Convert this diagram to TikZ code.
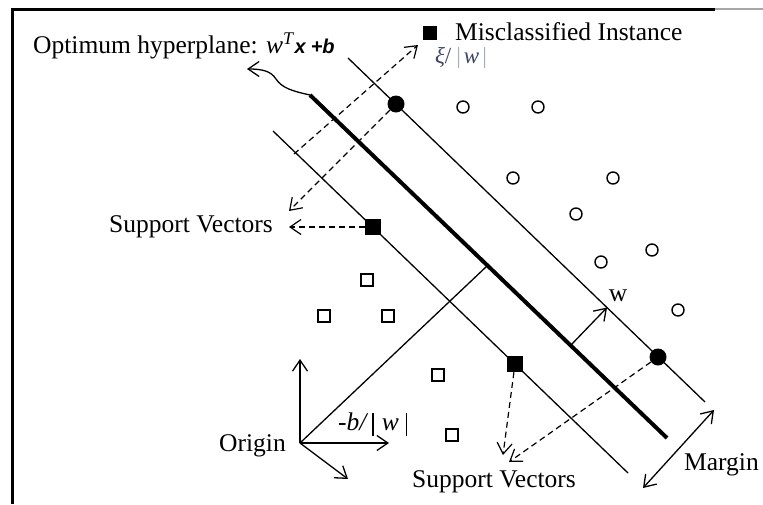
\documentclass[tikz,border=0pt]{standalone}
\usepackage{fontspec}
\setmainfont{Liberation Serif}
\newfontfamily\vecfont{Liberation Sans}
\usetikzlibrary{arrows.meta,calc}
\definecolor{xicol}{RGB}{58,70,100}
\definecolor{barcol}{RGB}{165,172,188}
\begin{document}
\begin{tikzpicture}[x=1pt,y=-1pt,
  lbl/.style={font=\fontsize{25.5}{30}\selectfont, inner sep=0pt},
  tip/.style={-{Straight Barb[length=11pt,width=15pt]}},
  thinline/.style={line width=1.3pt},
  hyper/.style={line width=4pt},
  dashline/.style={line width=1.2pt, dash pattern=on 6pt off 4pt},
  opencirc/.style={circle, draw, line width=1.4pt, minimum size=12pt, inner sep=0pt},
  opensq/.style={rectangle, draw, line width=1.4pt, minimum size=12pt, inner sep=0pt},
  dotcirc/.style={circle, fill, minimum size=17pt, inner sep=0pt},
  dotsq/.style={rectangle, fill, minimum size=16pt, inner sep=0pt},
]
\fill[white] (0,0) rectangle (763,504);
\useasboundingbox (0,0) rectangle (763,504);

% frame (top and left edges)
\draw[line width=3pt, line join=miter] (12.5,504) -- (12.5,9) -- (715,9);
\draw[line width=2pt, black!35] (715,9) -- (763,9);

% margin lines and optimum hyperplane
\coordinate (UA) at (348,58);  \coordinate (UB) at (705,402);
\coordinate (LA) at (273,131); \coordinate (LB) at (628,473);
\coordinate (HA) at (310,95);  \coordinate (HB) at (667,438);
\draw[thinline] (UA) -- (UB);
\draw[thinline] (LA) -- (LB);
\draw[hyper] (HA) -- (HB);

% wavy pointer to the hyperplane label
\coordinate (wv) at (247,69);
\draw[thinline, tip] (HA) .. controls (292,91) and (282,88) .. (276,79)
  .. controls (271,71) and (262,69) .. (wv);

% origin axes and the normal through the origin
\coordinate (O) at (300,443);
\coordinate (P) at (487,266);
\coordinate (ax1) at (300,359);
\coordinate (ax2) at (389,443);
\coordinate (ax3) at (348,479);
\draw[thinline] (O) -- (P);
\draw[thinline, tip] (O) -- (ax1);
\draw[thinline, tip] (O) -- (ax2);
\draw[thinline, tip] (O) -- (ax3);

% w vector
\coordinate (W0) at ($(HA)!0.73!(HB)$);
\coordinate (W1) at ($(UA)!(W0)!(UB)$);
\draw[thinline, tip] (W0) -- (W1);
\node[lbl] (wlbl) at (618,296) {w};

% positive class
\foreach \p [count=\i] in {(463,107),(538,107),(513,178),(613,178),(576,214),(652,250),(601,262),(678,310)}
  \node[opencirc] (pc\i) at \p {};
% negative class
\foreach \p [count=\i] in {(367,280),(324,316),(388,316),(438,375),(452,435)}
  \node[opensq] (nc\i) at \p {};

% support vectors and misclassified instance
\node[dotcirc] (sv1) at (396,104) {};
\node[dotcirc] (sv2) at (658,357) {};
\node[dotsq] (sv3) at (373,227) {};
\node[dotsq] (sv4) at (515,364) {};
\node[dotsq, minimum size=14pt] (mis) at (430,33) {};

% dashed pointers
\coordinate (xi0) at (294,154);
\coordinate (xi1) at (418,45);
\draw[dashline, tip] (xi0) -- (xi1);
\coordinate (svA) at (289,211);
\coordinate (svB) at (289,227);
\coordinate (svC) at (503,455);
\coordinate (svD) at (509,462);
\draw[dashline, tip] (sv1) -- (svA);
\draw[dashline, tip] (sv3) -- (svB);
\draw[dashline, tip] (sv4) -- (svC);
\draw[dashline, tip] (sv2) -- (svD);

% margin width
\coordinate (m0) at (643,488);
\coordinate (m1) at (714,410);
\draw[thinline, {Straight Barb[length=11pt,width=15pt]}-{Straight Barb[length=11pt,width=15pt]}] (m0) -- (m1);

% labels
\node[lbl, anchor=west] (hyplbl) at (33,46)
  {Optimum hyperplane: \textit{w}\textsuperscript{\textit{T}}{\vecfont\bfseries\itshape\fontsize{20}{24}\selectfont x\hspace{5pt}+b}};
\node[lbl, anchor=west] (mislbl) at (455,32) {Misclassified Instance};
\node[lbl, font=\fontsize{23}{27}\selectfont] (xilbl) at (461,58)
  {\textcolor{xicol}{\textit{ξ}/}\hspace{5pt}\textcolor{barcol}{|}\hspace{3pt}\textcolor{xicol}{\textit{w}}\hspace{3pt}\textcolor{barcol}{|}};
\node[lbl, anchor=east] (svleft) at (273,227) {Support Vectors};
\node[lbl] (svbottom) at (494,482) {Support Vectors};
\node[lbl, anchor=east] (orig) at (286,446) {Origin};
\node[lbl, anchor=west] (marg) at (684,465) {Margin};
\node[lbl, anchor=west] (blbl) at (338,424)
  {\textit{-b/}\hspace{4pt}\rule[-5pt]{1.4pt}{23pt}\hspace{8pt}\textit{w}\hspace{7pt}\rule[-5pt]{1.4pt}{23pt}};
\end{tikzpicture}
\end{document}
